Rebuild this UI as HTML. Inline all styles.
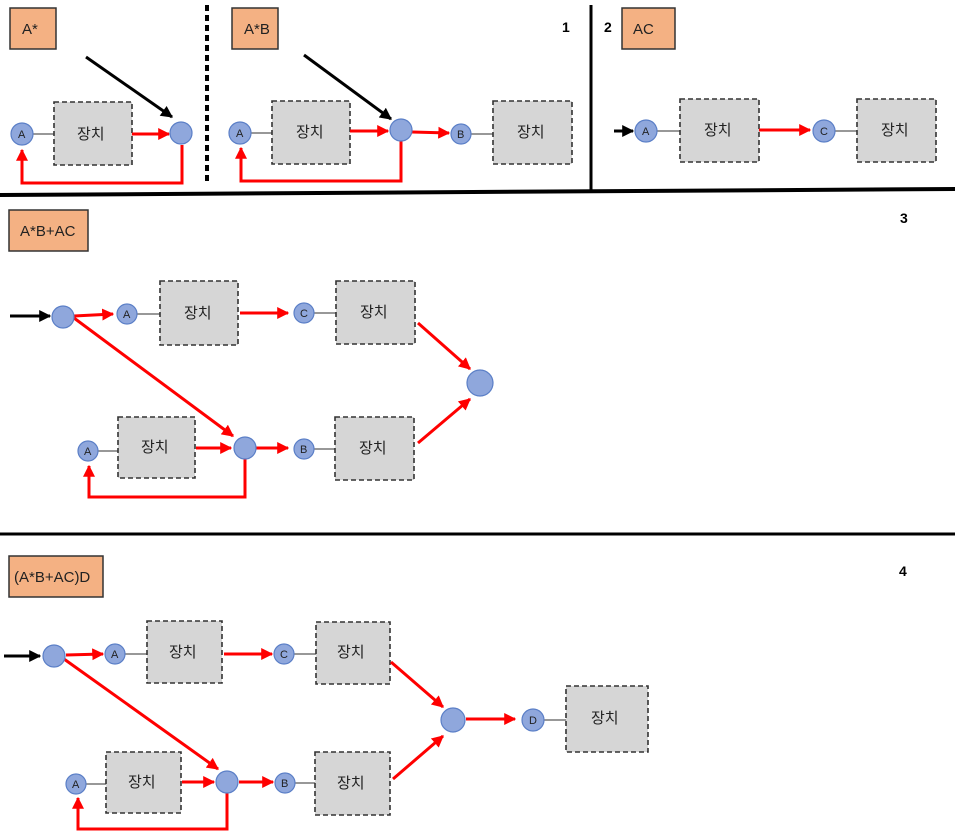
<!DOCTYPE html>
<html><head><meta charset="utf-8"><style>
html,body{margin:0;padding:0;background:#fff;width:955px;height:837px;overflow:hidden}
svg text{font-family:"Liberation Sans","Noto Sans CJK KR",sans-serif}
.lb{fill:#F4B183;stroke:#333;stroke-width:1.5}
.bx{fill:#d6d6d6;stroke:#333;stroke-width:1.6;stroke-dasharray:5,3}
.n{fill:#8fa7dc;stroke:#5b7fc7;stroke-width:1.2}
.r{stroke:#f00;stroke-width:3;fill:none}
.k{stroke:#000;stroke-width:3;fill:none}
.g{stroke:#777;stroke-width:1.5}
.t{font-size:15px;fill:#222}
.s{font-size:11px;fill:#222}
.h{font-size:14px;font-weight:bold}
</style></head><body>
<svg width="955" height="837" viewBox="0 0 955 837" xmlns="http://www.w3.org/2000/svg">
<defs>
<marker id="ra" viewBox="0 0 10 10" refX="9" refY="5" markerWidth="4" markerHeight="4" orient="auto"><path d="M0,0L10,5L0,10z" fill="#f00"/></marker>
<marker id="ka" viewBox="0 0 10 10" refX="9" refY="5" markerWidth="4" markerHeight="4" orient="auto"><path d="M0,0L10,5L0,10z" fill="#000"/></marker>
</defs>

<!-- separators -->
<line x1="207" y1="5" x2="207" y2="185" stroke="#000" stroke-width="4" stroke-dasharray="6,4"/>
<line x1="591" y1="5" x2="591" y2="192" stroke="#000" stroke-width="3"/>
<line x1="0" y1="195" x2="955" y2="189" stroke="#000" stroke-width="4"/>
<line x1="0" y1="534" x2="955" y2="534" stroke="#000" stroke-width="3"/>

<!-- Panel 1 -->
<rect class="lb" x="10" y="8" width="46" height="41"/><text class="t" x="22" y="34">A*</text>
<line class="k" x1="86" y1="57" x2="172" y2="117" marker-end="url(#ka)"/>
<line class="g" x1="33" y1="134" x2="54" y2="134"/>
<rect class="bx" x="54" y="102" width="78" height="63"/><text class="t" x="77" y="139">장치</text>
<line class="r" x1="132" y1="134" x2="169" y2="134" marker-end="url(#ra)"/>
<polyline class="r" points="182,145 182,183 22,183 22,150" marker-end="url(#ra)"/>
<circle class="n" cx="22" cy="134" r="11"/><text class="s" x="18" y="138">A</text>
<circle class="n" cx="181" cy="133" r="11"/>

<!-- Panel 2 -->
<rect class="lb" x="232" y="8" width="46" height="41"/><text class="t" x="244" y="34">A*B</text>
<line class="k" x1="304" y1="55" x2="391" y2="119" marker-end="url(#ka)"/>
<line class="g" x1="251" y1="133" x2="272" y2="133"/>
<rect class="bx" x="272" y="101" width="78" height="63"/><text class="t" x="296" y="137">장치</text>
<line class="r" x1="350" y1="131" x2="388" y2="131" marker-end="url(#ra)"/>
<line class="r" x1="412" y1="132" x2="449" y2="133" marker-end="url(#ra)"/>
<polyline class="r" points="401,141 401,181 241,181 241,148" marker-end="url(#ra)"/>
<circle class="n" cx="240" cy="133" r="11"/><text class="s" x="236" y="137">A</text>
<circle class="n" cx="401" cy="130" r="11"/>
<line class="g" x1="471" y1="134" x2="493" y2="134"/>
<circle class="n" cx="461" cy="134" r="10"/><text class="s" x="457" y="138">B</text>
<rect class="bx" x="493" y="101" width="79" height="63"/><text class="t" x="517" y="137">장치</text>
<text class="h" x="562" y="32">1</text>

<!-- Panel 2 right -->
<text class="h" x="604" y="32">2</text>
<rect class="lb" x="622" y="8" width="53" height="41"/><text class="t" x="633" y="34">AC</text>
<line class="k" x1="614" y1="131" x2="633" y2="131" marker-end="url(#ka)" stroke-width="2.5"/>
<line class="g" x1="656" y1="131" x2="680" y2="131"/>
<circle class="n" cx="646" cy="131" r="11"/><text class="s" x="642" y="135">A</text>
<rect class="bx" x="680" y="99" width="79" height="63"/><text class="t" x="704" y="135">장치</text>
<line class="r" x1="759" y1="130" x2="810" y2="130" marker-end="url(#ra)"/>
<line class="g" x1="834" y1="131" x2="857" y2="131"/>
<circle class="n" cx="824" cy="131" r="11"/><text class="s" x="820" y="135">C</text>
<rect class="bx" x="857" y="99" width="79" height="63"/><text class="t" x="881" y="135">장치</text>

<!-- Panel 3 -->
<rect class="lb" x="9" y="210" width="79" height="41"/><text class="t" x="20" y="236">A*B+AC</text>
<text class="h" x="900" y="223">3</text>
<line class="k" x1="10" y1="316" x2="50" y2="316" marker-end="url(#ka)"/>
<line class="r" x1="74" y1="316" x2="113" y2="314" marker-end="url(#ra)"/>
<line class="r" x1="74" y1="318" x2="233" y2="436" marker-end="url(#ra)"/>
<line class="g" x1="137" y1="314" x2="160" y2="314"/>
<rect class="bx" x="160" y="281" width="78" height="64"/><text class="t" x="184" y="318">장치</text>
<line class="r" x1="240" y1="313" x2="288" y2="313" marker-end="url(#ra)"/>
<line class="g" x1="314" y1="313" x2="336" y2="313"/>
<rect class="bx" x="336" y="281" width="79" height="63"/><text class="t" x="360" y="317">장치</text>
<line class="r" x1="418" y1="323" x2="470" y2="369" marker-end="url(#ra)"/>
<line class="r" x1="418" y1="443" x2="470" y2="399" marker-end="url(#ra)"/>
<circle class="n" cx="480" cy="383" r="13"/>
<line class="g" x1="98" y1="451" x2="118" y2="451"/>
<rect class="bx" x="118" y="417" width="77" height="61"/><text class="t" x="141" y="452">장치</text>
<line class="r" x1="196" y1="448" x2="231" y2="448" marker-end="url(#ra)"/>
<line class="r" x1="256" y1="448" x2="288" y2="448" marker-end="url(#ra)"/>
<polyline class="r" points="245,459 245,497 89,497 89,466" marker-end="url(#ra)"/>
<line class="g" x1="314" y1="449" x2="335" y2="449"/>
<rect class="bx" x="335" y="417" width="79" height="63"/><text class="t" x="359" y="453">장치</text>
<circle class="n" cx="63" cy="317" r="11"/>
<circle class="n" cx="127" cy="314" r="10"/><text class="s" x="123" y="318">A</text>
<circle class="n" cx="304" cy="313" r="10"/><text class="s" x="300" y="317">C</text>
<circle class="n" cx="88" cy="451" r="10"/><text class="s" x="84" y="455">A</text>
<circle class="n" cx="245" cy="448" r="11"/>
<circle class="n" cx="304" cy="449" r="10"/><text class="s" x="300" y="453">B</text>

<!-- Panel 4 -->
<rect class="lb" x="9" y="556" width="94" height="41"/><text class="t" x="14" y="582">(A*B+AC)D</text>
<text class="h" x="899" y="576">4</text>
<line class="k" x1="4" y1="656" x2="40" y2="656" marker-end="url(#ka)"/>
<line class="r" x1="66" y1="655" x2="103" y2="654" marker-end="url(#ra)"/>
<line class="r" x1="64" y1="659" x2="218" y2="769" marker-end="url(#ra)"/>
<line class="g" x1="125" y1="654" x2="147" y2="654"/>
<rect class="bx" x="147" y="621" width="75" height="62"/><text class="t" x="169" y="657">장치</text>
<line class="r" x1="224" y1="654" x2="272" y2="654" marker-end="url(#ra)"/>
<line class="g" x1="294" y1="654" x2="316" y2="654"/>
<rect class="bx" x="316" y="622" width="74" height="62"/><text class="t" x="337" y="657">장치</text>
<line class="r" x1="391" y1="662" x2="443" y2="707" marker-end="url(#ra)"/>
<line class="r" x1="393" y1="779" x2="443" y2="736" marker-end="url(#ra)"/>
<circle class="n" cx="453" cy="720" r="12"/>
<line class="r" x1="466" y1="719" x2="515" y2="719" marker-end="url(#ra)"/>
<line class="g" x1="543" y1="720" x2="566" y2="720"/>
<circle class="n" cx="533" cy="720" r="11"/><text class="s" x="529" y="724">D</text>
<rect class="bx" x="566" y="686" width="82" height="66"/><text class="t" x="591" y="723">장치</text>
<line class="g" x1="86" y1="784" x2="106" y2="784"/>
<rect class="bx" x="106" y="752" width="75" height="61"/><text class="t" x="128" y="787">장치</text>
<line class="r" x1="182" y1="782" x2="214" y2="782" marker-end="url(#ra)"/>
<line class="r" x1="239" y1="782" x2="273" y2="782" marker-end="url(#ra)"/>
<polyline class="r" points="227,793 227,829 78,829 78,798" marker-end="url(#ra)"/>
<line class="g" x1="295" y1="783" x2="315" y2="783"/>
<rect class="bx" x="315" y="752" width="75" height="63"/><text class="t" x="337" y="788">장치</text>
<circle class="n" cx="54" cy="656" r="11"/>
<circle class="n" cx="115" cy="654" r="10"/><text class="s" x="111" y="658">A</text>
<circle class="n" cx="284" cy="654" r="10"/><text class="s" x="280" y="658">C</text>
<circle class="n" cx="76" cy="784" r="10"/><text class="s" x="72" y="788">A</text>
<circle class="n" cx="227" cy="782" r="11"/>
<circle class="n" cx="285" cy="783" r="10"/><text class="s" x="281" y="787">B</text>
</svg>
</body></html>
